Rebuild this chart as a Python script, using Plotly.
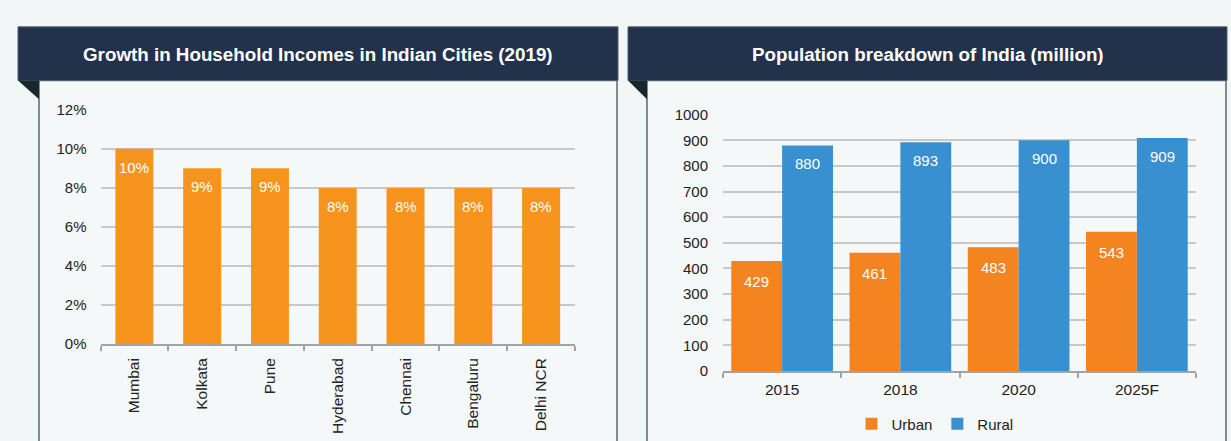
import plotly.graph_objects as go

# ---------------- data ----------------
cities = ["Mumbai", "Kolkata", "Pune", "Hyderabad", "Chennai", "Bengaluru", "Delhi NCR"]
income_growth = [10, 9, 9, 8, 8, 8, 8]

years = ["2015", "2018", "2020", "2025F"]
urban = [429, 461, 483, 543]
rural = [880, 893, 900, 909]

left_title = "Growth in Household Incomes in Indian Cities (2019)"
right_title = "Population breakdown of India (million)"

# ---------------- layout helpers ----------------
W, H = 1231, 441
FONT = "Liberation Sans, Arial, sans-serif"

# observed mapping of the photographed page: screen_y = SY * fig_y + OY
SY, OY = 0.95, 9.0


def px(x):
    return x / W


def py(y_screen):
    y_fig = (y_screen - OY) / SY
    return (H - y_fig) / H


HEADER = "#22324a"
BODY = "#f5f8f9"
BORDER = "#56686e"
TRI = "#18272b"
GRID = "#c8c8c8"
AXIS = "#a3a3a3"
ORANGE_L = "#f7941d"
ORANGE_R = "#f48420"
BLUE_R = "#3890d0"

fig = go.Figure()

fig.add_trace(go.Bar(
    x=cities, y=income_growth, marker=dict(color=ORANGE_L, line=dict(width=0)),
    xaxis="x", yaxis="y", showlegend=False, hoverinfo="skip", width=0.56,
))
fig.add_trace(go.Bar(
    x=years, y=urban, name="Urban", marker=dict(color=ORANGE_R, line=dict(width=0)),
    xaxis="x2", yaxis="y2",
))
fig.add_trace(go.Bar(
    x=years, y=rural, name="Rural", marker=dict(color=BLUE_R, line=dict(width=0)),
    xaxis="x2", yaxis="y2",
))

shapes = []
for (hx0, hx1, bx0, bx1) in [(18, 618, 39, 617), (628, 1227, 647, 1226)]:
    shapes.append(dict(type="rect", xref="paper", yref="paper",
                       x0=px(bx0), x1=px(bx1), y0=py(480), y1=py(81),
                       fillcolor=BODY, line=dict(color=BORDER, width=1.5), layer="below"))
    shapes.append(dict(type="rect", xref="paper", yref="paper",
                       x0=px(hx0), x1=px(hx1), y0=py(81), y1=py(27),
                       fillcolor=HEADER, line=dict(color="#50606c", width=1), layer="below"))
    shapes.append(dict(type="path", xref="paper", yref="paper",
                       path=f"M {px(hx0)},{py(81)} L {px(bx0)},{py(81)} L {px(bx0)},{py(100)} Z",
                       fillcolor=TRI, line=dict(width=0), layer="below"))

title_font = dict(family=FONT, size=18.8, color="#ffffff")
annotations = [
    dict(text=f"<b>{left_title}</b>", xref="paper", yref="paper", x=px(318), y=py(55),
         xanchor="center", yanchor="middle", showarrow=False, font=title_font),
    dict(text=f"<b>{right_title}</b>", xref="paper", yref="paper", x=px(927.5), y=py(55),
         xanchor="center", yanchor="middle", showarrow=False, font=title_font),
]

label_font = dict(family=FONT, size=15, color="#ffffff")
for i, (c, v) in enumerate(zip(cities, income_growth)):
    annotations.append(dict(text=f"{v}%", x=i, y=v, xref="x", yref="y", showarrow=False,
                            yanchor="middle", yshift=-18.5, font=label_font))
# on a category axis numeric-looking strings would be read as indices, so use the index
for i, (u, r) in enumerate(zip(urban, rural)):
    annotations.append(dict(text=str(u), x=i, y=u, xref="x2", yref="y2", showarrow=False,
                            yanchor="middle", yshift=-20.5, xshift=-25.5, font=label_font))
    annotations.append(dict(text=str(r), x=i, y=r, xref="x2", yref="y2", showarrow=False,
                            yanchor="middle", yshift=-18.5, xshift=25.5, font=label_font))

tickfont = dict(family=FONT, size=15, color="#222222")

xaxis_common = dict(type="category", showline=True, linecolor=AXIS, linewidth=1.5,
                    ticks="outside", tickson="boundaries", ticklen=5, tickcolor=AXIS,
                    tickwidth=1.5, showgrid=False, zeroline=False, fixedrange=True)
yaxis_common = dict(showline=False, ticks="", showgrid=True, gridcolor=GRID, gridwidth=1.5,
                    zeroline=False, fixedrange=True)

fig.update_layout(
    width=W, height=H, autosize=False,
    margin=dict(l=0, r=0, t=0, b=0),
    paper_bgcolor="#f2f6f7", plot_bgcolor="rgba(0,0,0,0)",
    font=dict(family=FONT, color="#222222"),
    barmode="group",
    bargap=0.14,
    shapes=shapes,
    annotations=annotations,
    xaxis=dict(domain=[px(100.5), px(575)], anchor="y", tickangle=-90,
               range=[-0.5, len(cities) - 0.5], ticklabelstandoff=6,
               tickfont=dict(family=FONT, size=15.5, color="#222222"), **xaxis_common),
    yaxis=dict(domain=[py(346.5), py(110.5)], anchor="x", range=[0, 12], dtick=2,
               ticksuffix="%", tickfont=tickfont, ticklabelstandoff=13, **yaxis_common),
    xaxis2=dict(domain=[px(723), px(1196)], anchor="y2", tickangle=0,
                range=[-0.5, len(years) - 0.5], ticklabelstandoff=4,
                tickfont=dict(family=FONT, size=15.5, color="#222222"), **xaxis_common),
    yaxis2=dict(domain=[py(373.5), py(115.5)], anchor="x2", range=[0, 1000], dtick=100,
                tickfont=tickfont, ticklabelstandoff=14, **yaxis_common),
    legend=dict(orientation="h", x=px(935), xanchor="center", y=py(427), yanchor="middle",
                bgcolor="rgba(0,0,0,0)", font=dict(family=FONT, size=15, color="#222222"),
                itemwidth=30, traceorder="normal"),
)

fig.write_html(
    "out.html",
    config={"displayModeBar": False},
    post_script="document.documentElement.style.margin='0';document.body.style.margin='0';",
)
